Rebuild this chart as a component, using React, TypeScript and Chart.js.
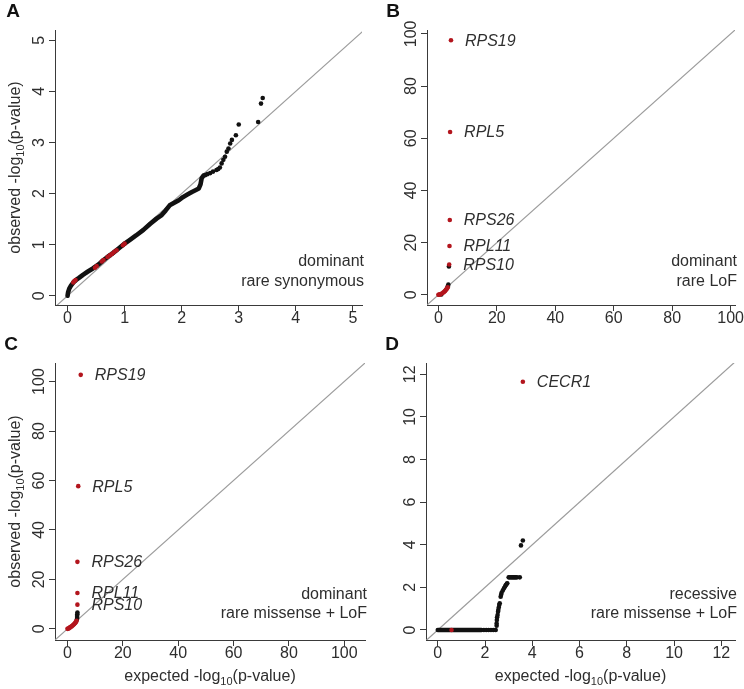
import React, { useEffect, useRef } from "react";
import { Chart, registerables } from "chart.js";

Chart.register(...registerables);

const FONT = "'Liberation Sans', Arial, Helvetica, sans-serif";
const AXIS_COLOR = "#3a3a3a";
const TEXT_COLOR = "#2e2e2e";
const DIAG_COLOR = "#9c9c9c";
const RED = "#b3151d";
const BLACK = "#111111";

// ---------- Panel A: dominant, rare synonymous ----------
const synTicks = [0, 1, 2, 3, 4, 5];
const synCurveExp = [0, 0.01, 0.03, 0.06, 0.1, 0.15, 0.2, 0.27, 0.35, 0.45, 0.55, 0.62, 0.7, 0.8, 0.9, 1.0, 1.1, 1.2, 1.33, 1.45, 1.56, 1.65, 1.72, 1.79, 1.87, 1.95, 2.02, 2.1, 2.18, 2.25, 2.3, 2.33, 2.35, 2.38];
const synCurveObs = [0, 0.07, 0.14, 0.2, 0.26, 0.31, 0.35, 0.41, 0.47, 0.54, 0.62, 0.69, 0.76, 0.84, 0.93, 1.02, 1.1, 1.18, 1.29, 1.41, 1.51, 1.58, 1.67, 1.77, 1.82, 1.87, 1.93, 1.98, 2.03, 2.07, 2.1, 2.18, 2.3, 2.35];
const synTailExp = [2.41, 2.45, 2.5, 2.55, 2.61, 2.64, 2.67, 2.7, 2.73, 2.76, 2.79, 2.82, 2.85, 2.88, 2.95, 3.0, 3.34, 3.39, 3.42];
const synTailObs = [2.36, 2.38, 2.4, 2.43, 2.46, 2.48, 2.51, 2.59, 2.66, 2.72, 2.82, 2.88, 2.98, 3.05, 3.14, 3.35, 3.4, 3.76, 3.87];
const synRedExp = [0.1, 0.12, 0.14, 0.48, 0.51, 0.6, 0.63, 0.7, 0.74, 0.78, 0.82, 0.86, 0.97, 1.0];
const synRedObs = [0.26, 0.29, 0.31, 0.55, 0.58, 0.67, 0.7, 0.76, 0.79, 0.82, 0.86, 0.89, 0.99, 1.02];

// ---------- Panel B: dominant, rare LoF ----------
const pctTicks = [0, 20, 40, 60, 80, 100];
const lofRedExp = [0, 0.2, 0.4, 0.7, 1.3, 1.7, 2.0, 2.3, 2.6, 2.8, 3.0, 3.2];
const lofRedObs = [0, 0, 0.1, 0.2, 0.6, 0.9, 1.2, 1.5, 1.9, 2.2, 2.5, 2.9];
const lofBlackExp = [1.0, 3.2, 3.4, 3.6];
const lofBlackObs = [0.1, 3.3, 3.9, 10.9];
const lofGenes = ["RPS19", "RPL5", "RPS26", "RPL11", "RPS10"];
const lofGeneExp = [4.3, 4.0, 3.9, 3.8, 3.7];
const lofGeneObs = [97.6, 62.4, 28.7, 18.7, 11.6];

// ---------- Panel C: dominant, rare missense + LoF ----------
const misRedExp = [0, 0.3, 0.6, 0.9, 1.2, 1.6, 2.0, 2.4, 2.7, 2.9, 3.1, 3.3];
const misRedObs = [0, 0.1, 0.3, 0.6, 0.8, 1.1, 1.5, 1.9, 2.3, 2.6, 2.9, 3.3];
const misBlackExp = [3.4, 3.5, 3.5, 3.55, 3.6];
const misBlackObs = [3.8, 4.4, 5.2, 5.9, 6.6];
const misGenes = ["RPS19", "RPL5", "RPS26", "RPL11", "RPS10"];
const misGeneExp = [4.8, 3.9, 3.6, 3.6, 3.6];
const misGeneObs = [102.7, 57.7, 27.1, 14.5, 9.8];

// ---------- Panel D: recessive, rare missense + LoF ----------
const recTicks = [0, 2, 4, 6, 8, 10, 12];
const recFlatExp = [0, 1.85];
const recFlatObs = [0, 0];
const recBlackExp = [1.95, 2.05, 2.15, 2.25, 2.35, 2.45, 2.49, 2.49, 2.5, 2.51, 2.53, 2.55, 2.56, 2.58, 2.6, 2.62, 2.66, 2.68, 2.7, 2.75, 2.8, 2.85, 2.88, 2.92, 2.94, 3.0, 3.05, 3.1, 3.15, 3.2, 3.25, 3.3, 3.35, 3.47, 3.52, 3.6];
const recBlackObs = [0, 0, 0, 0, 0, 0, 0.2, 0.31, 0.47, 0.6, 0.7, 0.85, 0.94, 1.05, 1.17, 1.25, 1.56, 1.65, 1.75, 1.85, 1.96, 2.05, 2.11, 2.17, 2.19, 2.47, 2.47, 2.47, 2.47, 2.47, 2.47, 2.47, 2.47, 2.47, 3.97, 4.2];
const recRedExp = [0.58];
const recRedObs = [0];
const recGenes = ["CECR1"];
const recGeneExp = [3.6];
const recGeneObs = [11.65];

type Pt = { x: number; y: number };
const zip = (xs: number[], ys: number[]): Pt[] => xs.map((x, i) => ({ x, y: ys[i] }));

interface PanelCfg {
  key: string;
  letter: string;
  letterX: number;
  letterY: number;
  left: number;
  top: number;
  width: number;
  height: number;
  area: { l: number; r: number; t: number; b: number };
  xRange: [number, number];
  yRange: [number, number];
  xTicks: number[];
  yTicks: number[];
  curve?: Pt[];
  black: Pt[];
  red: Pt[];
  genes: { name: string; x: number; y: number }[];
  corner: string[];
  cornerOffsets: number[];
  yTitle: boolean;
  xTitle: boolean;
}

const panels: PanelCfg[] = [
  {
    key: "A", letter: "A", letterX: 13, letterY: 12,
    left: 0, top: 0, width: 372, height: 335,
    area: { l: 55, r: 362, t: 30, b: 305 },
    xRange: [-0.22, 5.16], yRange: [-0.18, 5.2],
    xTicks: synTicks, yTicks: synTicks,
    curve: zip(synCurveExp, synCurveObs),
    black: zip(synTailExp, synTailObs),
    red: zip(synRedExp, synRedObs),
    genes: [],
    corner: ["dominant", "rare synonymous"], cornerOffsets: [43, 23],
    yTitle: true, xTitle: false,
  },
  {
    key: "B", letter: "B", letterX: 21, letterY: 12,
    left: 372, top: 0, width: 372, height: 335,
    area: { l: 55, r: 363, t: 30, b: 305 },
    xRange: [-3.9, 101.5], yRange: [-3.9, 101.5],
    xTicks: pctTicks, yTicks: pctTicks,
    black: zip(lofBlackExp, lofBlackObs),
    red: zip(lofRedExp, lofRedObs).concat(zip(lofGeneExp, lofGeneObs)),
    genes: lofGenes.map((n, i) => ({ name: n, x: lofGeneExp[i], y: lofGeneObs[i] })),
    corner: ["dominant", "rare LoF"], cornerOffsets: [43, 23],
    yTitle: false, xTitle: false,
  },
  {
    key: "C", letter: "C", letterX: 11, letterY: 10,
    left: 0, top: 335, width: 372, height: 354,
    area: { l: 55, r: 365, t: 28, b: 305 },
    xRange: [-4.5, 107.5], yRange: [-4.5, 107.5],
    xTicks: pctTicks, yTicks: pctTicks,
    black: zip(misBlackExp, misBlackObs),
    red: zip(misRedExp, misRedObs).concat(zip(misGeneExp, misGeneObs)),
    genes: misGenes.map((n, i) => ({ name: n, x: misGeneExp[i], y: misGeneObs[i] })),
    corner: ["dominant", "rare missense + LoF"], cornerOffsets: [45, 26],
    yTitle: true, xTitle: true,
  },
  {
    key: "D", letter: "D", letterX: 20, letterY: 10,
    left: 372, top: 335, width: 372, height: 354,
    area: { l: 54, r: 363, t: 28, b: 305 },
    xRange: [-0.5, 12.58], yRange: [-0.47, 12.53],
    xTicks: recTicks, yTicks: recTicks,
    curve: zip(recFlatExp, recFlatObs),
    black: zip(recBlackExp, recBlackObs),
    red: zip(recRedExp, recRedObs).concat(zip(recGeneExp, recGeneObs)),
    genes: recGenes.map((n, i) => ({ name: n, x: recGeneExp[i], y: recGeneObs[i] })),
    corner: ["recessive", "rare missense + LoF"], cornerOffsets: [45, 26],
    yTitle: false, xTitle: true,
  },
];

function drawSubTitle(ctx: CanvasRenderingContext2D, prefix: string, sub: string, suffix: string, cx: number, cy: number) {
  const main = `16px ${FONT}`;
  const small = `11px ${FONT}`;
  ctx.font = main;
  const w1 = ctx.measureText(prefix).width;
  const w3 = ctx.measureText(suffix).width;
  ctx.font = small;
  const w2 = ctx.measureText(sub).width;
  let x = cx - (w1 + w2 + w3) / 2;
  ctx.textAlign = "left";
  ctx.textBaseline = "middle";
  ctx.font = main;
  ctx.fillText(prefix, x, cy);
  x += w1;
  ctx.font = small;
  ctx.fillText(sub, x, cy + 5);
  x += w2;
  ctx.font = main;
  ctx.fillText(suffix, x, cy);
}

function Panel({ cfg }: { cfg: PanelCfg }) {
  const ref = useRef<HTMLCanvasElement | null>(null);
  useEffect(() => {
    const canvas = ref.current;
    if (!canvas) return;
    const { area, width, height } = cfg;
    const lo = Math.min(cfg.xRange[0], cfg.yRange[0]);
    const hi = Math.max(cfg.xRange[1], cfg.yRange[1]);

    const datasets: any[] = [
      {
        data: cfg.red,
        showLine: false,
        pointRadius: 2.3,
        pointBackgroundColor: RED,
        pointBorderWidth: 0,
        order: 1,
      },
      {
        data: cfg.black,
        showLine: false,
        pointRadius: 2.3,
        pointBackgroundColor: BLACK,
        pointBorderWidth: 0,
        order: 2,
      },
    ];
    if (cfg.curve) {
      datasets.push({
        data: cfg.curve,
        showLine: true,
        borderColor: BLACK,
        borderWidth: 4.6,
        borderCapStyle: "round",
        borderJoinStyle: "round",
        pointRadius: 0,
        tension: 0,
        order: 3,
      });
    }
    datasets.push({
      data: [{ x: lo, y: lo }, { x: hi, y: hi }],
      showLine: true,
      borderColor: DIAG_COLOR,
      borderWidth: 1.2,
      pointRadius: 0,
      order: 4,
    });

    const textPlugin = {
      id: "panelText" + cfg.key,
      afterDraw(chart: any) {
        const ctx: CanvasRenderingContext2D = chart.ctx;
        const xs = chart.scales.x;
        const ys = chart.scales.y;
        const ca = chart.chartArea;
        ctx.save();
        ctx.fillStyle = TEXT_COLOR;
        ctx.font = `16px ${FONT}`;
        ctx.textAlign = "center";
        ctx.textBaseline = "middle";
        cfg.xTicks.forEach((v) => {
          ctx.fillText(String(v), xs.getPixelForValue(v), ca.bottom + 14);
        });
        cfg.yTicks.forEach((v) => {
          const py = ys.getPixelForValue(v);
          ctx.save();
          ctx.translate(ca.left - 15, py);
          ctx.rotate(-Math.PI / 2);
          ctx.fillText(String(v), 0, 0);
          ctx.restore();
        });
        // corner description
        ctx.textAlign = "right";
        cfg.corner.forEach((line, i) => {
          ctx.fillText(line, ca.right + 2, ca.bottom - cfg.cornerOffsets[i]);
        });
        // gene labels
        ctx.font = `italic 16px ${FONT}`;
        ctx.textAlign = "left";
        cfg.genes.forEach((g) => {
          ctx.fillText(g.name, xs.getPixelForValue(g.x) + 14, ys.getPixelForValue(g.y) + 1);
        });
        // axis titles
        if (cfg.xTitle) {
          drawSubTitle(ctx, "expected -log", "10", "(p-value)", (ca.left + ca.right) / 2, ca.bottom + 37);
        }
        if (cfg.yTitle) {
          ctx.save();
          ctx.translate(16, (ca.top + ca.bottom) / 2);
          ctx.rotate(-Math.PI / 2);
          drawSubTitle(ctx, "observed -log", "10", "(p-value)", 0, 0);
          ctx.restore();
        }
        // panel letter
        ctx.fillStyle = "#111";
        ctx.font = `bold 19px ${FONT}`;
        ctx.textAlign = "center";
        ctx.textBaseline = "middle";
        ctx.fillText(cfg.letter, cfg.letterX, cfg.letterY);
        ctx.restore();
      },
    };

    const axisCommon = {
      type: "linear" as const,
      ticks: { display: false },
      grid: {
        display: true,
        drawOnChartArea: false,
        drawTicks: true,
        tickLength: 6,
        color: AXIS_COLOR,
        lineWidth: 1,
      },
      border: { display: true, color: AXIS_COLOR, width: 1 },
    };

    const chart = new Chart(canvas, {
      type: "scatter",
      data: { datasets },
      options: {
        animation: false,
        responsive: false,
        events: [],
        layout: { padding: { left: 0, top: area.t, right: width - area.r, bottom: 0 } },
        plugins: { legend: { display: false }, tooltip: { enabled: false } },
        scales: {
          x: {
            ...axisCommon,
            min: cfg.xRange[0],
            max: cfg.xRange[1],
            afterBuildTicks: (s: any) => {
              s.ticks = cfg.xTicks.map((v) => ({ value: v }));
            },
            afterFit: (s: any) => {
              s.height = height - area.b;
            },
          },
          y: {
            ...axisCommon,
            min: cfg.yRange[0],
            max: cfg.yRange[1],
            afterBuildTicks: (s: any) => {
              s.ticks = cfg.yTicks.map((v) => ({ value: v }));
            },
            afterFit: (s: any) => {
              s.width = area.l;
            },
          },
        },
      } as any,
      plugins: [textPlugin],
    });
    return () => chart.destroy();
  }, [cfg]);

  return (
    <canvas
      ref={ref}
      width={cfg.width}
      height={cfg.height}
      style={{ position: "absolute", left: cfg.left, top: cfg.top, width: cfg.width, height: cfg.height }}
    />
  );
}

export default function App() {
  return (
    <div style={{ position: "absolute", left: 0, top: 0, width: 744, height: 689, background: "#fff", overflow: "hidden" }}>
      {panels.map((p) => (
        <Panel key={p.key} cfg={p} />
      ))}
    </div>
  );
}
